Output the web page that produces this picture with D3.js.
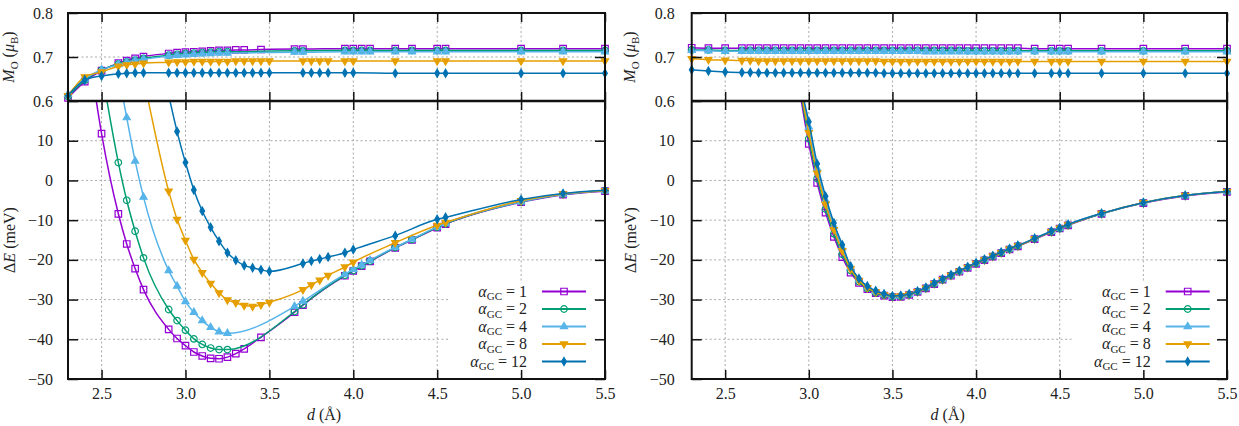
<!DOCTYPE html>
<html>
<head>
<meta charset="utf-8">
<script src="https://cdn.jsdelivr.net/npm/d3@7"></script>
<style>
  body { margin: 0; background: #fff; }
  text { font-family: "Liberation Serif", "DejaVu Serif", "Noto Serif", "Times New Roman", Times, serif; }
</style>
</head>
<body>
<svg id="chart_svg" width="1239" height="426"></svg>
<script>
// ---- data ----
var alphaLabels = ['1', '2', '4', '8', '12'];
var seriesColors = ['#9400d3', '#009e73', '#56b4e9', '#e69f00', '#0072b2'];

var xTicks = [2.5, 3.0, 3.5, 4.0, 4.5, 5.0, 5.5];
var momentTicks = [0.6, 0.7, 0.8];
var energyTicks = [-50, -40, -30, -20, -10, 0, 10];

// left panel, distances (Angstrom)
var leftDistA = [2.3, 2.4, 2.5, 2.6, 2.65, 2.7, 2.75, 2.9, 2.95, 3.0, 3.05, 3.1, 3.15, 3.2, 3.25, 3.3, 3.35, 3.45, 3.65, 3.7, 3.95, 4.0, 4.05, 4.1, 4.25, 4.35, 4.5, 4.55, 5.0, 5.25, 5.5];
var leftDistC = [2.3, 2.4, 2.5, 2.6, 2.65, 2.7, 2.75, 2.9, 2.95, 3.0, 3.05, 3.1, 3.15, 3.2, 3.25, 3.65, 3.7, 3.95, 4.0, 4.05, 4.1, 4.25, 4.35, 4.5, 4.55, 5.0, 5.25, 5.5];
var leftDistB = [2.3, 2.4, 2.5, 2.6, 2.65, 2.7, 2.75, 2.9, 2.95, 3.0, 3.05, 3.1, 3.15, 3.2, 3.25, 3.3, 3.35, 3.4, 3.45, 3.5, 3.7, 3.75, 3.8, 3.85, 3.95, 4.0, 4.25, 4.5, 4.55, 5.0, 5.25, 5.5];

// left panel, binding energy (meV); null = off the scale
var leftEnergy1 = [null, 40, 11.8, -8.4, -16.0, -22.2, -27.5, -37.5, -39.8, -41.6, -43.2, -44.2, -44.8, -44.9, -44.5, -43.6, -42.4, -39.5, -33.2, -31.4, -24.0, -22.8, -21.6, -20.4, -17.0, -15.0, -11.9, -11.0, -5.5, -3.6, -2.7];
var leftEnergy2 = [null, null, 28, 4.5, -5.0, -12.8, -19.5, -32.5, -35.3, -37.7, -39.9, -41.3, -42.2, -42.6, -42.6, -33.0, -31.3, -23.9, -22.7, -21.5, -20.3, -16.9, -14.9, -11.8, -10.9, -5.4, -3.5, -2.6];
var leftEnergy4 = [null, null, null, 27, 15.8, 4.9, -4.2, -22.7, -26.6, -30.5, -33.2, -35.3, -37.0, -38.1, -38.5, -31.7, -30.4, -23.6, -22.4, -21.3, -20.1, -16.8, -14.8, -11.7, -10.8, -5.4, -3.5, -2.6];
var leftEnergy8 = [null, null, null, null, null, null, 26, -2.7, -9.8, -15.1, -19.9, -23.2, -25.9, -28.3, -30.1, -30.8, -31.5, -31.7, -31.3, -30.7, -27.5, -26.3, -25.1, -23.9, -21.8, -20.6, -15.7, -11.3, -10.6, -5.1, -3.4, -2.6];
var leftEnergy12 = [null, null, null, null, null, null, null, 21.5, 12.3, 4.5, -2.4, -7.7, -11.8, -15.3, -18.2, -20.1, -21.4, -22.0, -22.5, -22.9, -20.9, -20.3, -19.8, -19.3, -18.2, -17.4, -13.9, -9.8, -9.3, -4.8, -3.3, -2.5];

// left panel, O moment (mu_B)
var leftMoment1 = [0.607, 0.644, 0.669, 0.686, 0.692, 0.697, 0.701, 0.708, 0.710, 0.711, 0.712, 0.713, 0.714, 0.715, 0.715, 0.716, 0.716, 0.717, 0.718, 0.718, 0.719, 0.719, 0.719, 0.719, 0.719, 0.719, 0.719, 0.719, 0.719, 0.719, 0.719];
var leftMoment2 = [0.610, 0.647, 0.670, 0.684, 0.689, 0.693, 0.697, 0.704, 0.706, 0.708, 0.709, 0.710, 0.711, 0.712, 0.712, 0.714, 0.714, 0.715, 0.715, 0.715, 0.715, 0.715, 0.715, 0.715, 0.715, 0.715, 0.715, 0.715];
var leftMoment4 = [0.615, 0.650, 0.671, 0.683, 0.688, 0.692, 0.695, 0.702, 0.704, 0.705, 0.706, 0.707, 0.708, 0.709, 0.709, 0.711, 0.711, 0.712, 0.712, 0.712, 0.712, 0.712, 0.712, 0.712, 0.712, 0.712, 0.712, 0.712];
var leftMoment8 = [0.612, 0.655, 0.666, 0.679, 0.682, 0.684, 0.686, 0.688, 0.689, 0.689, 0.690, 0.690, 0.690, 0.690, 0.690, 0.691, 0.691, 0.691, 0.691, 0.691, 0.691, 0.691, 0.691, 0.691, 0.691, 0.691, 0.691, 0.691, 0.691, 0.691, 0.691, 0.691];
var leftMoment12 = [0.612, 0.648, 0.657, 0.662, 0.663, 0.664, 0.664, 0.664, 0.664, 0.664, 0.664, 0.664, 0.664, 0.664, 0.664, 0.664, 0.664, 0.664, 0.664, 0.664, 0.664, 0.664, 0.664, 0.664, 0.664, 0.664, 0.663, 0.663, 0.663, 0.663, 0.663, 0.663];

// right panel
var rightDist = [2.3, 2.4, 2.5, 2.6, 2.65, 2.7, 2.75, 2.8, 2.85, 2.9, 2.95, 3.0, 3.05, 3.1, 3.15, 3.2, 3.25, 3.3, 3.35, 3.4, 3.45, 3.5, 3.55, 3.6, 3.65, 3.7, 3.75, 3.8, 3.85, 3.9, 3.95, 4.0, 4.05, 4.1, 4.15, 4.2, 4.25, 4.35, 4.45, 4.5, 4.55, 4.75, 5.0, 5.25, 5.5];

var rightEnergy1 = [null, null, null, null, null, null, null, null, null, 36, 21.5, 9.2, -0.6, -8.1, -14.2, -19.3, -23.2, -25.8, -27.4, -28.4, -29.0, -29.4, -29.3, -28.8, -28.1, -27.2, -26.1, -25.0, -24.0, -23.0, -22.0, -21.0, -20.1, -19.2, -18.3, -17.4, -16.6, -14.8, -13.0, -12.1, -11.3, -8.4, -5.7, -3.9, -2.9];
var rightEnergy2 = [null, null, null, null, null, null, null, null, null, 35, 22.5, 10.5, 0.5, -7.2, -13.4, -18.6, -22.7, -25.5, -27.2, -28.3, -28.9, -29.3, -29.2, -28.7, -28.0, -27.1, -26.0, -25.0, -23.9, -22.9, -21.9, -20.9, -20.0, -19.1, -18.2, -17.3, -16.5, -14.7, -12.9, -12.1, -11.2, -8.4, -5.6, -3.8, -2.8];
var rightEnergy4 = [null, null, null, null, null, null, null, null, null, 34.5, 23.5, 13.5, 3.0, -5.0, -11.5, -16.9, -22.0, -25.0, -26.8, -27.9, -28.7, -29.2, -29.1, -28.7, -28.0, -27.0, -25.9, -24.9, -23.8, -22.8, -21.8, -20.8, -19.9, -19.0, -18.1, -17.2, -16.4, -14.6, -12.8, -12.0, -11.1, -8.3, -5.6, -3.8, -2.8];
var rightEnergy8 = [null, null, null, null, null, null, null, null, null, 35, 23, 12.0, 1.8, -6.0, -12.4, -17.7, -22.3, -25.2, -27.0, -28.1, -28.8, -29.2, -29.1, -28.7, -28.0, -27.1, -26.0, -25.0, -23.9, -22.9, -21.9, -20.9, -20.0, -19.1, -18.2, -17.3, -16.5, -14.7, -12.9, -12.0, -11.2, -8.3, -5.6, -3.8, -2.8];
var rightEnergy12 = [null, null, null, null, null, null, null, null, null, 34, 24, 14.8, 4.2, -4.0, -10.7, -16.2, -21.6, -24.7, -26.6, -27.8, -28.6, -29.1, -29.0, -28.6, -27.9, -27.0, -25.9, -24.9, -23.8, -22.8, -21.8, -20.8, -19.9, -19.0, -18.1, -17.2, -16.4, -14.6, -12.8, -12.0, -11.1, -8.3, -5.6, -3.8, -2.8];

var rightMoment1 = [0.721, 0.720, 0.720, 0.720, 0.720, 0.720, 0.720, 0.720, 0.720, 0.720, 0.720, 0.720, 0.720, 0.720, 0.720, 0.720, 0.720, 0.720, 0.720, 0.720, 0.720, 0.720, 0.720, 0.720, 0.720, 0.720, 0.720, 0.720, 0.720, 0.720, 0.720, 0.720, 0.720, 0.720, 0.720, 0.720, 0.720, 0.719, 0.719, 0.719, 0.719, 0.719, 0.719, 0.719, 0.719];
var rightMoment2 = [0.716, 0.716, 0.715, 0.715, 0.715, 0.715, 0.715, 0.715, 0.715, 0.715, 0.715, 0.715, 0.715, 0.715, 0.715, 0.715, 0.715, 0.715, 0.715, 0.715, 0.715, 0.715, 0.715, 0.715, 0.715, 0.715, 0.715, 0.715, 0.715, 0.715, 0.714, 0.714, 0.714, 0.714, 0.714, 0.714, 0.714, 0.714, 0.714, 0.714, 0.714, 0.714, 0.714, 0.714, 0.714];
var rightMoment4 = [0.715, 0.714, 0.713, 0.713, 0.713, 0.713, 0.713, 0.713, 0.713, 0.713, 0.713, 0.713, 0.713, 0.713, 0.713, 0.713, 0.713, 0.713, 0.713, 0.713, 0.713, 0.713, 0.713, 0.713, 0.713, 0.712, 0.712, 0.712, 0.712, 0.712, 0.712, 0.712, 0.712, 0.712, 0.712, 0.712, 0.712, 0.712, 0.712, 0.712, 0.712, 0.712, 0.712, 0.712, 0.712];
var rightMoment8 = [0.696, 0.694, 0.693, 0.692, 0.692, 0.691, 0.691, 0.691, 0.691, 0.691, 0.691, 0.691, 0.691, 0.691, 0.691, 0.691, 0.691, 0.691, 0.691, 0.691, 0.690, 0.690, 0.690, 0.690, 0.690, 0.690, 0.690, 0.690, 0.690, 0.690, 0.690, 0.690, 0.690, 0.690, 0.690, 0.690, 0.690, 0.690, 0.690, 0.690, 0.690, 0.690, 0.690, 0.690, 0.690];
var rightMoment12 = [0.671, 0.668, 0.666, 0.665, 0.665, 0.664, 0.664, 0.664, 0.664, 0.664, 0.664, 0.664, 0.664, 0.664, 0.664, 0.664, 0.664, 0.664, 0.664, 0.664, 0.663, 0.663, 0.663, 0.663, 0.663, 0.663, 0.663, 0.663, 0.663, 0.663, 0.663, 0.663, 0.663, 0.663, 0.663, 0.663, 0.663, 0.663, 0.663, 0.663, 0.663, 0.663, 0.663, 0.663, 0.663];

// ---- layout ----
var dims = { top: 13, mid: 101, bottom: 379 };
var panels = [
    { x0: 68, x1: 605, labelX: 14, tickPad: 15,
      dists: [leftDistA, leftDistC, leftDistC, leftDistB, leftDistB],
      energy: [leftEnergy1, leftEnergy2, leftEnergy4, leftEnergy8, leftEnergy12],
      moment: [leftMoment1, leftMoment2, leftMoment4, leftMoment8, leftMoment12] },
    { x0: 691.7, x1: 1227, labelX: 635, tickPad: 17,
      dists: [rightDist, rightDist, rightDist, rightDist, rightDist],
      energy: [rightEnergy1, rightEnergy2, rightEnergy4, rightEnergy8, rightEnergy12],
      moment: [rightMoment1, rightMoment2, rightMoment4, rightMoment8, rightMoment12] }
];

var symbolTypes = [d3.symbolSquare, d3.symbolCircle, d3.symbolTriangle, d3.symbolTriangle, d3.symbolDiamond];
var symbolRot = [0, 0, 0, 180, 0];
var symbolFilled = [false, false, true, true, true];
var symbolArea = [42, 34, 22, 22, 19];
var fontFam = '"Liberation Serif", "DejaVu Serif", "Noto Serif", "Times New Roman", Times, serif';
var fontSize = 16;

function marker_path(i) {
    return d3.symbol().type(symbolTypes[i]).size(symbolArea[i])();
}

function draw_markers(g, pts, i, x, y) {
    g.selectAll('path.pt')
        .data(pts)
        .enter()
        .append('path')
          .attr('class', 'pt')
          .attr('d', marker_path(i))
          .attr('transform', function(d) {
              return 'translate(' + x(d.d) + ',' + y(d.v) + ') rotate(' + symbolRot[i] + ')';
          })
          .attr('fill', symbolFilled[i] ? seriesColors[i] : 'none')
          .attr('stroke', seriesColors[i])
          .attr('stroke-width', 1.2);
}

function style_axis(sel) {
    sel.select('.domain').remove();
    sel.attr('font-family', null).attr('font-size', null);
    sel.selectAll('.tick line').attr('stroke', '#111').attr('stroke-width', 1.5);
    sel.selectAll('text')
        .style('font-family', fontFam)
        .attr('font-size', fontSize)
        .attr('fill', '#222');
}

// text with italic / subscript pieces
function rich_text(t, parts) {
    t.style('font-family', fontFam);
    parts.forEach(function(p) {
        var s = t.append('tspan').text(p[0]);
        if (p[1] == 'i') s.attr('font-style', 'italic');
        if (p[1] == 'sub') s.attr('font-size', 11).attr('dy', 3.5);
        if (p[1] == 'up') s.attr('dy', -3.5);
    });
}

function draw_panel(base, p, k) {
    var x = d3.scaleLinear().domain([2.3, 5.5]).range([p.x0, p.x1]);
    var yM = d3.scaleLinear().domain([0.6, 0.8]).range([dims.mid, dims.top]);
    var yE = d3.scaleLinear().domain([-50, 20]).range([dims.bottom, dims.mid]);
    var g = base.append('g');

    // clip regions for the two sub plots
    var defs = base.append('defs');
    defs.append('clipPath').attr('id', 'clipTop' + k).append('rect')
        .attr('x', p.x0).attr('y', dims.top).attr('width', p.x1 - p.x0).attr('height', dims.mid - dims.top);
    defs.append('clipPath').attr('id', 'clipBot' + k).append('rect')
        .attr('x', p.x0).attr('y', dims.mid).attr('width', p.x1 - p.x0).attr('height', dims.bottom - dims.mid);

    // dotted grid
    var grid = g.append('g').attr('stroke', '#a8a8a8').attr('stroke-width', 1).attr('stroke-dasharray', '2,2.5');
    xTicks.filter(function(t) { return t < 5.5; }).forEach(function(t) {
        grid.append('line').attr('x1', x(t)).attr('x2', x(t)).attr('y1', dims.top).attr('y2', dims.bottom);
    });
    grid.append('line').attr('x1', p.x0).attr('x2', p.x1).attr('y1', yM(0.7)).attr('y2', yM(0.7));
    energyTicks.filter(function(t) { return t > -50; }).forEach(function(t) {
        grid.append('line').attr('x1', p.x0).attr('x2', p.x1).attr('y1', yE(t)).attr('y2', yE(t));
    });

    // legend background hides the grid
    g.append('rect').attr('x', p.x0 + 380).attr('y', 283).attr('width', 145).attr('height', 88).attr('fill', '#fff');

    var lineM = d3.line().defined(function(d) { return d.v != null; })
        .x(function(d) { return x(d.d); }).y(function(d) { return yM(d.v); }).curve(d3.curveMonotoneX);
    var lineE = d3.line().defined(function(d) { return d.v != null; })
        .x(function(d) { return x(d.d); }).y(function(d) { return yE(d.v); }).curve(d3.curveMonotoneX);

    for (var i = 0; i < 5; i++) {
        var ptsM = p.dists[i].map(function(d, j) { return { d: d, v: p.moment[i][j] }; });
        var ptsE = p.dists[i].map(function(d, j) { return { d: d, v: p.energy[i][j] }; });
        g.append('path').datum(ptsM).attr('d', lineM)
            .attr('clip-path', 'url(#clipTop' + k + ')')
            .attr('fill', 'none').attr('stroke', seriesColors[i]).attr('stroke-width', 1.5);
        g.append('path').datum(ptsE).attr('d', lineE)
            .attr('clip-path', 'url(#clipBot' + k + ')')
            .attr('fill', 'none').attr('stroke', seriesColors[i]).attr('stroke-width', 1.5);
        draw_markers(g.append('g'), ptsM.filter(function(d) { return d.v != null && d.v >= 0.6 && d.v <= 0.8; }), i, x, yM);
        draw_markers(g.append('g'), ptsE.filter(function(d) { return d.v != null && d.v >= -50 && d.v <= 20; }), i, x, yE);
    }

    // axes, ticks pointing inwards on every side
    g.append('g').attr('transform', 'translate(' + p.x0 + ',0)')
        .call(d3.axisLeft(yM).tickValues(momentTicks).tickFormat(d3.format('.1f'))
            .tickSizeInner(-10).tickSizeOuter(0).tickPadding(p.tickPad)).call(style_axis);
    g.append('g').attr('transform', 'translate(' + p.x1 + ',0)')
        .call(d3.axisRight(yM).tickValues([0.7]).tickFormat('').tickSizeInner(-10).tickSizeOuter(0)).call(style_axis);
    g.append('g').attr('transform', 'translate(0,' + dims.top + ')')
        .call(d3.axisTop(x).tickValues(xTicks).tickFormat('').tickSizeInner(-9).tickSizeOuter(0)).call(style_axis);
    g.append('g').attr('transform', 'translate(0,' + dims.mid + ')')
        .call(d3.axisBottom(x).tickValues(xTicks).tickFormat('').tickSizeInner(-9).tickSizeOuter(0)).call(style_axis);

    g.append('g').attr('transform', 'translate(' + p.x0 + ',0)')
        .call(d3.axisLeft(yE).tickValues(energyTicks).tickFormat(d3.format('d'))
            .tickSizeInner(-10).tickSizeOuter(0).tickPadding(p.tickPad)).call(style_axis);
    g.append('g').attr('transform', 'translate(' + p.x1 + ',0)')
        .call(d3.axisRight(yE).tickValues(energyTicks).tickFormat('').tickSizeInner(-10).tickSizeOuter(0)).call(style_axis);
    g.append('g').attr('transform', 'translate(0,' + dims.mid + ')')
        .call(d3.axisTop(x).tickValues(xTicks).tickFormat('').tickSizeInner(-9).tickSizeOuter(0)).call(style_axis);
    g.append('g').attr('transform', 'translate(0,' + dims.bottom + ')')
        .call(d3.axisBottom(x).tickValues(xTicks).tickFormat(d3.format('.1f'))
            .tickSizeInner(-9).tickSizeOuter(0).tickPadding(9)).call(style_axis);

    // frames
    g.append('rect').attr('x', p.x0).attr('y', dims.top).attr('width', p.x1 - p.x0).attr('height', dims.bottom - dims.top)
        .attr('fill', 'none').attr('stroke', '#111').attr('stroke-width', 2);
    g.append('line').attr('x1', p.x0).attr('x2', p.x1).attr('y1', dims.mid).attr('y2', dims.mid)
        .attr('stroke', '#111').attr('stroke-width', 2.5);

    // axis titles
    var tM = g.append('text').attr('transform', 'translate(' + p.labelX + ',' + ((dims.top + dims.mid) / 2) + ') rotate(-90)')
        .attr('text-anchor', 'middle').attr('font-size', fontSize).attr('fill', '#222');
    rich_text(tM, [['M', 'i'], ['O', 'sub'], [' (', 'up'], ['μ', 'i'], ['B', 'sub'], [')', 'up']]);
    var tE = g.append('text').attr('transform', 'translate(' + (p.labelX + 1) + ',' + ((dims.mid + dims.bottom) / 2) + ') rotate(-90)')
        .attr('text-anchor', 'middle').attr('font-size', fontSize).attr('fill', '#222');
    rich_text(tE, [['Δ', ''], ['E', 'i'], [' (meV)', '']]);
    var tD = g.append('text').attr('x', p.x0 + 256).attr('y', 420)
        .attr('text-anchor', 'middle').attr('font-size', fontSize).attr('fill', '#222');
    rich_text(tD, [['d', 'i'], [' (Å)', '']]);

    // legend
    for (var i = 0; i < 5; i++) {
        var ly = 291.5 + i * 17.5;
        var lt = g.append('text').attr('x', p.x0 + 459).attr('y', ly + 5)
            .attr('text-anchor', 'end').attr('font-size', fontSize).attr('fill', '#222');
        rich_text(lt, [['α', 'i'], ['GC', 'sub'], [' = ' + alphaLabels[i], 'up']]);
        g.append('line').attr('x1', p.x0 + 474).attr('x2', p.x0 + 518).attr('y1', ly).attr('y2', ly)
            .attr('stroke', seriesColors[i]).attr('stroke-width', 1.8);
        draw_markers(g.append('g'), [{ d: 0, v: 0 }], i,
            function() { return p.x0 + 496; }, function() { return ly; });
    }
}

var base = d3.select('#chart_svg');
panels.forEach(function(p, k) { draw_panel(base, p, k); });
</script>
</body>
</html>
